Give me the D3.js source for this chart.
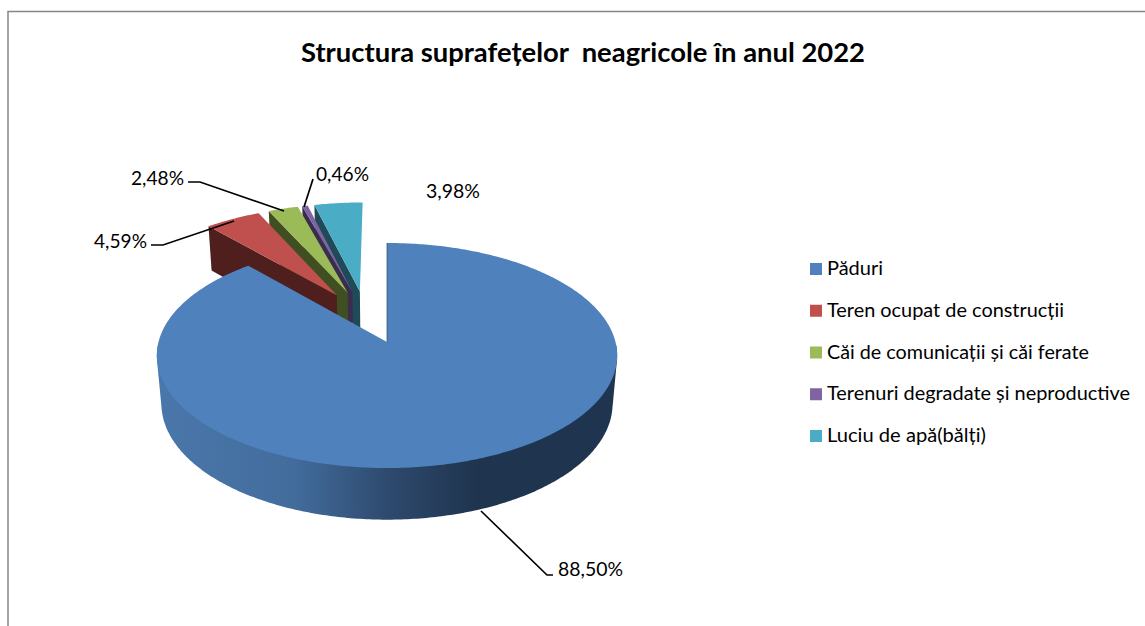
<!DOCTYPE html>
<html><head><meta charset="utf-8">
<style>html,body{margin:0;padding:0;background:#fff;overflow:hidden}svg{display:block}text{font-family:Lato,Carlito,"Open Sans",sans-serif;fill:#000}</style>
<script src="https://cdn.jsdelivr.net/npm/d3@7/dist/d3.min.js"></script>
</head><body><svg id="c" width="1145" height="626"></svg>
<script>
const titleText = "Structura suprafețelor  neagricole în anul 2022";
const categories = ["Păduri","Teren ocupat de construcții","Căi de comunicații și căi ferate","Terenuri degradate și neproductive","Luciu de apă(bălți)"];
const values = [88.50,4.59,2.48,0.46,3.98];
const valueLabels = ["88,50%","4,59%","2,48%","0,46%","3,98%"];
const topColors = ["#4f81bd","#c0504d","#9bbb59","#8064a2","#4bacc6"];
const wallColors = ["#2c4a6e","#4f1f1d","#3f4f22","#3a2c4c","#1f4a57"];
// label layout: text left/centre and leader polyline
const labelLayout = [
  {x:558,y:568,w:65,leader:[[481,511],[547,575],[553,575]]},
  {x:94,y:240,w:53,leader:[[151,245],[163,245],[234,221]]},
  {x:131,y:177,w:53,leader:[[188,182],[200,182],[284,211]]},
  {x:316,y:173,w:53,leader:[[313,179],[304,207]]},
  {x:426,y:190,w:54,leader:null}
];
const svg = d3.select("#c");
// projection parameters (camera)
const cx=387, cy=342, B=228.5, A=110.9, P=0.12, Q=0.02, C=49, EXPLODE=0.25;
const project=(u,v,low)=>{const w=1+P*v+(low?Q:0);return [cx+B*u/w, cy-(A*v-(low?C:0))/w];};
const pie=d3.pie().sort(null).startAngle(0).endAngle(2*Math.PI).value(d=>d);
const arcs=pie(values);
const m0=(arcs[0].startAngle+arcs[0].endAngle)/2;
const origin=[Math.sin(m0)*EXPLODE,Math.cos(m0)*EXPLODE];
const offset=a=>{const m=(a.startAngle+a.endAngle)/2;return i=>i===0?[0,0]:[Math.sin(m)*EXPLODE-origin[0]-0.006,Math.cos(m)*EXPLODE-origin[1]];};
const rim=(a,i,low,from=a.startAngle,to=a.endAngle)=>{
  const o=offset(a)(i),n=Math.max(4,Math.ceil((to-from)*80));
  return d3.range(n+1).map(k=>{const t=from+(to-from)*k/n;return project(o[0]+Math.sin(t),o[1]+Math.cos(t),low);});
};
const apex=(a,i,low)=>{const o=offset(a)(i);return project(o[0],o[1],low);};
const line=d3.line();
const defs=svg.append("defs");
const grad=defs.append("linearGradient").attr("id","side").attr("gradientUnits","userSpaceOnUse")
  .attr("x1",project(-1,0)[0]).attr("x2",project(1,0)[0]).attr("y1",0).attr("y2",0);
[[0,"#4a77ab"],[.3,"#426c9c"],[.5,"#2e4a6e"],[.7,"#1f344e"],[1,"#1f344e"]].forEach(s=>grad.append("stop").attr("offset",s[0]).attr("stop-color",s[1]));

// frame
svg.append("path").attr("d",line([[8,626],[8,11.5],[1145,11.5]])).attr("fill","none").attr("stroke","#868686").attr("stroke-width",1.5);

// small exploded slices, right to left
for(let i=arcs.length-1;i>=1;i--){
  const a=arcs[i],g=svg.append("g");
  const top0=rim(a,i,false)[0], low0=rim(a,i,true)[0];
  g.append("path").attr("fill",wallColors[i]).attr("d",line([apex(a,i,false),top0,low0,apex(a,i,true)])+"Z");
  g.append("path").attr("fill",topColors[i]).attr("d",line([apex(a,i,false),...rim(a,i,false)])+"Z");
}
// large slice: hull of the front part of both rims gives the side band
const b=arcs[0];
const bt=rim(b,0,false);
const frontTop=rim(b,0,false,Math.PI/2+0.03,Math.PI*1.5-0.03),frontLow=rim(b,0,true,Math.PI/2+0.03,Math.PI*1.5-0.03);
svg.append("path").attr("fill","url(#side)").attr("d",line(d3.polygonHull([...frontTop,...frontLow]))+"Z");
svg.append("path").attr("fill",topColors[0]).attr("d",line([apex(b,0,false),...bt])+"Z");
svg.append("path").attr("fill","none").attr("stroke","#35587f").attr("stroke-width",.8).attr("d",line([apex(b,0,false),bt[0]]));

// leaders and labels
labelLayout.forEach((l,i)=>{
  if(l.leader) svg.append("path").attr("d",line(l.leader)).attr("fill","none").attr("stroke","#000").attr("stroke-width",1.7);
  svg.append("text").attr("x",l.x).attr("y",l.y).attr("dominant-baseline","central").attr("font-size",19.5)
    .attr("textLength",l.w).attr("lengthAdjust","spacingAndGlyphs").text(valueLabels[i]);
});
// title
svg.append("text").attr("x",301).attr("y",62).attr("font-size",26).attr("font-weight",700)
  .attr("textLength",564).attr("lengthAdjust","spacingAndGlyphs").attr("xml:space","preserve").style("white-space","pre").text(titleText);
// legend
const legendY=d3.scalePoint().domain(categories).range([269,436]);
const legendW=[56,237,262,303,159];
categories.forEach((c,i)=>{
  svg.append("rect").attr("x",810).attr("y",legendY(c)-6).attr("width",12).attr("height",12).attr("fill",topColors[i]);
  svg.append("text").attr("x",827).attr("y",legendY(c)-1).attr("dominant-baseline","central").attr("font-size",18.5)
    .attr("textLength",legendW[i]).attr("lengthAdjust","spacingAndGlyphs").text(c);
});
</script></body></html>
